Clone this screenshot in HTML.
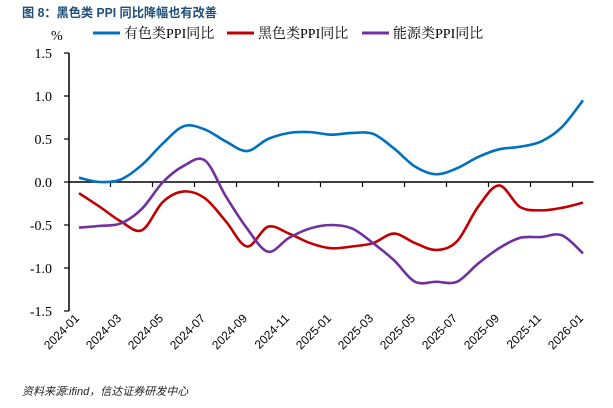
<!DOCTYPE html>
<html><head><meta charset="utf-8"><style>
body{margin:0;background:#fff;}
svg{display:block}
</style></head><body>
<svg id="chart" width="613" height="408" xmlns="http://www.w3.org/2000/svg">
<text x="22" y="17" font-family="Liberation Sans, Noto Sans CJK SC, sans-serif" font-weight="bold" font-size="12.5" fill="#1f4e79" textLength="195" lengthAdjust="spacingAndGlyphs">图 8：黑色类 PPI 同比降幅也有改善</text>
<text x="51" y="40" font-family="Liberation Serif, serif" font-size="14">%</text>
<g id="legend" font-family="Liberation Serif, Noto Serif CJK SC, serif" font-size="14"></g>
<g id="axes"></g>
<g id="series"></g>
<text x="22" y="395" font-family="Liberation Sans, Noto Sans CJK SC, sans-serif" font-style="italic" font-size="11" fill="#222">资料来源:ifind，信达证券研发中心</text>
</svg>
<script>
const categories=["2024-01","2024-02","2024-03","2024-04","2024-05","2024-06","2024-07","2024-08","2024-09","2024-10","2024-11","2024-12","2025-01","2025-02","2025-03","2025-04","2025-05","2025-06","2025-07","2025-08","2025-09","2025-10","2025-11","2025-12","2026-01"];
const nonferrous=[0.05,0.0,0.03,0.2,0.45,0.65,0.61,0.47,0.36,0.5,0.57,0.58,0.55,0.57,0.56,0.39,0.18,0.09,0.16,0.29,0.38,0.41,0.47,0.64,0.95];
const ferrous=[-0.13,-0.29,-0.46,-0.56,-0.23,-0.11,-0.19,-0.46,-0.75,-0.52,-0.6,-0.71,-0.77,-0.75,-0.71,-0.6,-0.71,-0.79,-0.69,-0.29,-0.04,-0.29,-0.33,-0.3,-0.24];
const energy=[-0.53,-0.51,-0.48,-0.31,0.0,0.19,0.25,-0.17,-0.54,-0.81,-0.65,-0.54,-0.5,-0.54,-0.71,-0.91,-1.16,-1.16,-1.16,-0.95,-0.77,-0.65,-0.64,-0.62,-0.83];
const yTicks=[1.5,1.0,0.5,0.0,-0.5,-1.0,-1.5];
const yTickLabels=["1.5","1.0","0.5","0.0","-0.5","-1.0","-1.5"];
const seriesNames=["有色类PPI同比","黑色类PPI同比","能源类PPI同比"];
const NS="http://www.w3.org/2000/svg";
const x0=68.5,bw=21,yMin=-1.5,yMax=1.5,yTop=53,yBot=311;
const xs=i=>x0+bw*(i+0.5);
const ys=v=>yBot-(v-yMin)/(yMax-yMin)*(yBot-yTop);
function mk(t,a,p){const e=document.createElementNS(NS,t);for(const k in a)e.setAttribute(k,a[k]);p.appendChild(e);return e;}
const axes=document.getElementById('axes');
const ya=mk('line',{x1:69,y1:yTop,x2:69,y2:yBot,stroke:'#000','stroke-width':1.5},axes);


yTicks.forEach((v,i)=>{
 const y=ys(v);
 const tk=mk('line',{x1:64,y1:y,x2:69,y2:y,stroke:'#000','stroke-width':1.2},axes);
 
 
 const t=mk('text',{x:52,y:y+5,'text-anchor':'end','font-family':'Liberation Serif, serif','font-size':14},axes);
 t.textContent=yTickLabels[i];
 
 
});
const y0=ys(0);
const xa=mk('line',{x1:69,y1:y0,x2:x0+bw*categories.length,y2:y0,stroke:'#000','stroke-width':1.5},axes);


for(let i=2;i<=categories.length;i+=2){
 const x=x0+bw*i;
 const tk=mk('line',{x1:x,y1:y0,x2:x,y2:y0+5,stroke:'#000','stroke-width':1.2},axes);
 
 
}
categories.forEach((c,i)=>{
 if(i%2)return;
 const x=xs(i)+1,y=319;
 const t=mk('text',{x:x,y:y,'text-anchor':'end','font-family':'Liberation Sans, sans-serif','font-size':12,transform:`rotate(-45 ${x} ${y})`},axes);
 t.textContent=c;
 
 
});
function path(vals){
 const p=vals.map((v,i)=>[xs(i),ys(v)]);
 let d=`M${p[0][0]},${p[0][1]}`;
 for(let i=0;i<p.length-1;i++){
  const a=p[Math.max(i-1,0)],b=p[i],c=p[i+1],e=p[Math.min(i+2,p.length-1)];
  const c1=[b[0]+(c[0]-a[0])/6,b[1]+(c[1]-a[1])/6],c2=[c[0]-(e[0]-b[0])/6,c[1]-(e[1]-b[1])/6];
  d+=` C${c1[0]},${c1[1]} ${c2[0]},${c2[1]} ${c[0]},${c[1]}`;
 }
 return d;
}
const sg=document.getElementById('series');
const cols=['#0070c0','#c00000','#7030a0'];
const names=['nonferrous-line','ferrous-line','energy-line'];
[nonferrous,ferrous,energy].forEach((s,k)=>{
 const pa=mk('path',{d:path(s),fill:'none',stroke:cols[k],'stroke-width':2.6},sg);
 
 
});
const lg=document.getElementById('legend');
const lx=[93,227,362];
seriesNames.forEach((n,k)=>{
 const l=mk('line',{x1:lx[k],y1:33,x2:lx[k]+27,y2:33,stroke:cols[k],'stroke-width':3},lg);
 
 
 const t=mk('text',{x:lx[k]+31,y:38},lg);
 t.textContent=n;
 
 
});
</script>
</body></html>
